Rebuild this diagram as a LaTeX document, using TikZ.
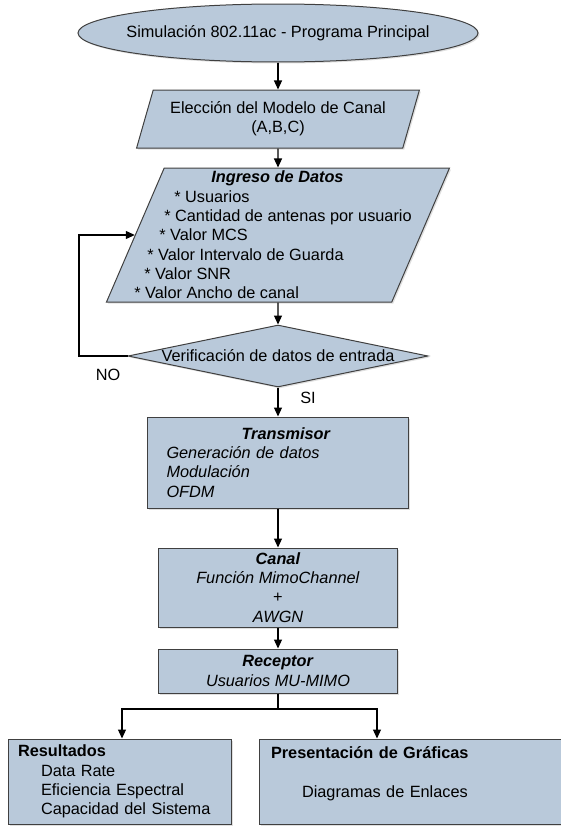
\documentclass[tikz,border=0pt]{standalone}
\usepackage{fontspec}
\setmainfont{Liberation Sans}
\usetikzlibrary{shapes.geometric,arrows.meta,shadows}

\definecolor{boxblue}{RGB}{185,201,218}
\definecolor{edgegray}{RGB}{64,64,64}

\tikzset{
  bloque/.style={draw=edgegray, fill=boxblue, line width=1pt, inner sep=0pt,
    drop shadow={shadow xshift=1.5pt, shadow yshift=-1.5pt, opacity=0.25}},
  terminal/.style={bloque, ellipse, minimum width=400pt, minimum height=58pt},
  entrada/.style={bloque, trapezium, trapezium stretches=true, align=center},
  decision/.style={bloque, diamond, aspect=4.84, minimum width=300pt, minimum height=62pt},
  proceso/.style={bloque, rectangle},
  flecha/.style={-{Triangle[length=9pt,width=8pt]}, line width=1.2pt}
}

\begin{document}
\begin{tikzpicture}[x=1pt, y=-1pt, font=\fontsize{16.3}{19.3}\selectfont]
    \useasboundingbox (0,0) rectangle (560,827);

    \node[terminal] (inicio) at (278,33) {\makebox[0pt]{Simulación 802.11ac - Programa Principal}};
    \node[entrada, trapezium left angle=67.5, trapezium right angle=112.5,
      minimum width=283pt, minimum height=58pt] (modelo) at (278,119)
      {Elección del Modelo de Canal\\(A,B,C)};
    \node[entrada, trapezium left angle=76.5, trapezium right angle=103.5,
      minimum width=343pt, minimum height=134pt] (datos) at (278,235) {\phantom{x}};
    \node[align=left] (datostxt) at ([xshift=-5pt]datos.center)
      {\hspace*{77pt}\textbf{\textit{Ingreso de Datos}}\\
       \hspace*{40pt}* Usuarios\\
       \hspace*{30pt}* Cantidad de antenas por usuario\\
       \hspace*{25pt}* Valor MCS\\
       \hspace*{13pt}* Valor Intervalo de Guarda\\
       \hspace*{10pt}* Valor SNR\\
       * Valor Ancho de canal};
    \node[decision] (verif) at (278,356) {Verificación de datos de entrada};

    \node[proceso, minimum width=261pt, minimum height=91pt, text width=223pt, align=left]
      (tx) at (278,462.5)
      {\hspace*{75pt}\textbf{\textit{Transmisor}}\\
       \textit{Generación de datos}\\
       \textit{Modulación}\\
       \textit{OFDM}};
    \node[proceso, minimum width=239pt, minimum height=79pt, align=center]
      (ch) at (278,587.5)
      {\textbf{\textit{Canal}}\\ \textit{Función MimoChannel}\\ +\\ \textit{AWGN}};
    \node[proceso, minimum width=239pt, minimum height=44pt, align=center]
      (rx) at (278,671)
      {\textbf{\textit{Receptor}}\\ \textit{Usuarios MU-MIMO}};

    \node[proceso, minimum width=223pt, minimum height=85pt, text width=203pt, align=left]
      (res) at (119.5,781.5)
      {\textbf{Resultados}\\
       \hspace*{23pt}Data Rate\\
       \hspace*{23pt}Eficiencia Espectral\\
       \hspace*{23pt}Capacidad del Sistema};
    \node[proceso, minimum width=302pt, minimum height=85pt, text width=278pt, align=left]
      (pres) at (410,781.5)
      {\textbf{Presentación de Gráficas}\\
       \mbox{}\\
       \hspace*{31pt}Diagramas de Enlaces\\
       \mbox{}};

    \node (no) at (108,375) {NO};
    \node (si) at (308,398) {SI};

    \foreach \a/\b in {inicio/modelo, modelo/datos, datos/verif, verif/tx, tx/ch, ch/rx}
    {
      \draw[flecha] (\a) -- (\b);
    };

    % lazo de correccion de datos
    \coordinate (bucle) at (79,356);
    \draw[flecha] (verif.west) -- (bucle) |- (datos.west);

    % salida hacia resultados y graficas
    \coordinate (rama) at (278,709);
    \draw[line width=1.2pt] (rx.south) -- (rama);
    \draw[flecha] (rama) -| ([xshift=2.5pt]res.north);
    \draw[flecha] (rama) -| ([xshift=-33pt]pres.north);
  \end{tikzpicture}
\end{document}
